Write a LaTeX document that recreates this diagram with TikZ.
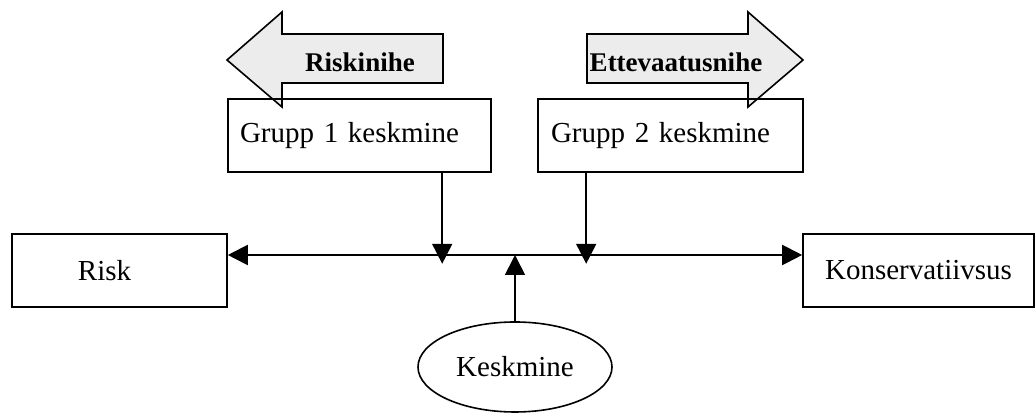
\documentclass[tikz,border=0pt]{standalone}
\usepackage{fontspec}
\setmainfont{Liberation Serif}
\usetikzlibrary{positioning, arrows.meta, shapes}
\tikzset{
every node/.style = {font = \fontsize{14.5}{17}\selectfont},
scalebox/.style = {rectangle, draw, line width = 0.8pt, inner sep = 5pt, minimum width = 107.5pt, 
	minimum height = 36.5pt},
groupbox/.style = {rectangle, draw, line width = 0.8pt, inner xsep = 6pt, minimum width = 131.5pt, 
	minimum height = 36.5pt, text width = 119.5pt, align = left},
meanellipse/.style = {ellipse, draw, line width = 0.8pt, inner sep = 2pt, minimum width = 97pt, 
	minimum height = 45pt},
shiftarrow/.style = {draw, line width = 0.8pt, fill = gray!15},
shiftlabel/.style = {font = \bfseries\fontsize{13.5}{16}\selectfont},
pointer/.style = {-{Triangle[length = 10pt, width = 10pt]}, line width = 0.9pt},
continuum/.style = {{Triangle[length = 10pt, width = 10pt]}-{Triangle[length = 10pt, width = 10pt]}, 
	line width = 1pt}
}

\begin{document}
\begin{tikzpicture}[x = 0.5pt, y = -0.5pt]
\useasboundingbox (0,0) rectangle (1035,415);

%% The shift arrows
\draw [shiftarrow] (227,60) -- (282,12) -- (282,34) -- (443,34) -- (443,83) -- (282,83) 
	-- (282,107) -- cycle;
\node [shiftlabel] (riskshift) at (360,62) {Riskinihe};
\draw [shiftarrow] (803,60) -- (748,12) -- (748,34) -- (587,34) -- (587,83) -- (748,83) 
	-- (748,107) -- cycle;
\node [shiftlabel] (cautionshift) at (676,62) {Ettevaatusnihe};

%% The group means
\node [groupbox] (g1) at (359.5,135.5) {Grupp 1 keskmine};
\node [groupbox, minimum width = 132.5pt] (g2) at (670.5,135.5) {Grupp 2 keskmine};

%% The ends of the scale and the overall mean
\node [scalebox] (risk) at (119.5,270.5) {Risk\hspace*{15pt}};
\node [scalebox, minimum width = 115.5pt] (kons) at (918.5,270.5) {Konservatiivsus};
\node [meanellipse] (mean) at (515,367) {Keskmine};

%% The scale
\coordinate (axis) at (515,255);
\draw [continuum] (risk.east |- axis) -- (kons.west |- axis);

%% The pointers
\draw [pointer] ([xshift = 107.5pt] g1.south west) -- ++(0,91);
\draw [pointer] ([xshift = 24.5pt] g2.south west) -- ++(0,91);
\draw [pointer] (mean.north) -- (axis);

\end{tikzpicture}
\end{document}
